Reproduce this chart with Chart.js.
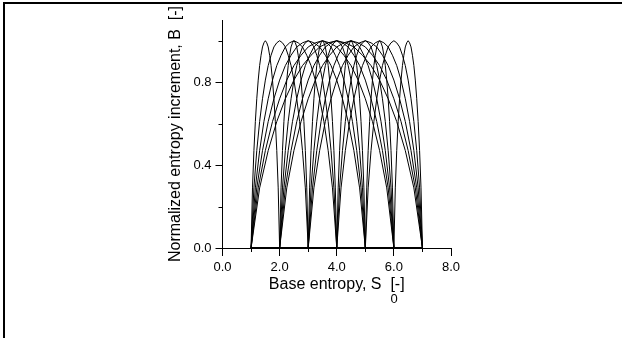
<!DOCTYPE html>
<html><head><meta charset="utf-8">
<script src="https://cdn.jsdelivr.net/npm/chart.js@4.4.1/dist/chart.umd.min.js"></script>
<style>
html,body{margin:0;padding:0;background:#fff;}
#wrap{position:relative;width:622px;height:338px;overflow:hidden;}
#frame{position:absolute;left:3px;top:2px;width:640px;height:360px;border-top:2px solid #000;border-left:2px solid #000;pointer-events:none;}
canvas{position:absolute;left:0;top:0;}
</style></head><body>
<div id="wrap"><canvas id="c" width="622" height="338"></canvas><div id="frame"></div></div>
<script>
// Normalized arc profile (fraction across the arc -> B)
const PROFILE_FRACTIONS = [0,0.05,0.10,0.15,0.20,0.25,0.30,0.35,0.40,0.45,0.50,0.55,0.60,0.65,0.70,0.75,0.80,0.85,0.90,0.95,1.00];
const PROFILE_VALUES    = [0,0.29,0.47,0.61,0.72,0.81,0.88,0.93,0.97,0.99,1.00,0.99,0.97,0.93,0.88,0.81,0.72,0.61,0.47,0.29,0];
// Start and end of each arc on the base-entropy axis
const ARC_SPANS = [[1,2],[1,3],[1,4],[1,5],[1,6],[1,7],
                   [2,3],[2,4],[2,5],[2,6],[2,7],
                   [3,4],[3,5],[3,6],[3,7],
                   [4,5],[4,6],[4,7],
                   [5,6],[5,7],
                   [6,7]];
const BASELINE_X = [1,7];
const X_TICKS = [0,1,2,3,4,5,6,7,8];
const X_LABELED = [0,2,4,6,8];
const Y_TICKS = [0,0.2,0.4,0.6,0.8,1.0];
const Y_LABELED = [0,0.4,0.8];
const X_TITLE = 'Base entropy, S  [-]';
const X_SUB = '0';
const Y_TITLE = 'Normalized entropy increment, B  [-]';

const FONT = "'Liberation Sans', Arial, sans-serif";
const isLab = (arr, v) => arr.some(a => Math.abs(a - v) < 1e-9);

const datasets = ARC_SPANS.map(([a,b]) => ({
  data: PROFILE_FRACTIONS.map((f,i) => ({x: a + f*(b-a), y: PROFILE_VALUES[i]})),
  borderColor: '#000', borderWidth: 1, pointRadius: 0, showLine: true, tension: 0, fill: false
}));
datasets.push({
  data: BASELINE_X.map(x => ({x, y: 0})),
  borderColor: '#000', borderWidth: 2, pointRadius: 0, showLine: true, fill: false
});

const minorTicks = {
  id: 'minorTicks',
  afterDraw(chart) {
    const ctx = chart.ctx, xs = chart.scales.x, ys = chart.scales.y;
    ctx.save();
    ctx.strokeStyle = '#000'; ctx.lineWidth = 1;
    X_TICKS.filter(v => !isLab(X_LABELED, v)).forEach(v => {
      const px = Math.round(xs.getPixelForValue(v)) + 0.5;
      ctx.beginPath(); ctx.moveTo(px, xs.top); ctx.lineTo(px, xs.top + 4); ctx.stroke();
    });
    Y_TICKS.filter(v => !isLab(Y_LABELED, v)).forEach(v => {
      const py = Math.round(ys.getPixelForValue(v)) + 0.5;
      ctx.beginPath(); ctx.moveTo(ys.right - 4, py); ctx.lineTo(ys.right, py); ctx.stroke();
    });
    // subscript of the x-axis title
    ctx.font = '16px ' + FONT;
    const cx = (xs.left + xs.right) / 2;
    const full = ctx.measureText(X_TITLE).width;
    const pre = ctx.measureText(X_TITLE.slice(0, X_TITLE.indexOf('['))).width;
    ctx.font = '13px ' + FONT;
    ctx.fillStyle = '#000'; ctx.textAlign = 'left'; ctx.textBaseline = 'middle';
    ctx.fillText(X_SUB, cx - full/2 + pre, xs.bottom - 39);
    ctx.restore();
  }
};

new Chart(document.getElementById('c'), {
  type: 'scatter',
  data: { datasets },
  options: {
    responsive: false, animation: false, devicePixelRatio: 1,
    clip: false,
    layout: { padding: { left: 160, top: 20, right: 171, bottom: 0 } },
    plugins: { legend: { display: false }, tooltip: { enabled: false } },
    scales: {
      x: {
        type: 'linear', min: 0, max: 8,
        afterBuildTicks: s => { s.ticks = X_TICKS.map(v => ({ value: v })); },
        afterFit: s => { s.height = 90; },
        ticks: { autoSkip: false, maxRotation: 0, padding: 4, color: '#000',
                 font: { family: FONT, size: 13 },
                 callback: v => isLab(X_LABELED, v) ? v.toFixed(1) : '' },
        grid: { drawOnChartArea: false, tickLength: 8,
                tickColor: c => (c.tick && isLab(X_LABELED, c.tick.value)) ? '#000' : 'rgba(0,0,0,0)' },
        border: { color: '#000', width: 1 },
        title: { display: true, text: X_TITLE, color: '#000', font: { family: FONT, size: 16 },
                 padding: { top: 0, bottom: 44 } }
      },
      y: {
        type: 'linear', min: 0, max: 1.1,
        afterBuildTicks: s => { s.ticks = Y_TICKS.map(v => ({ value: v })); },
        afterFit: s => { s.width = 62.5; },
        ticks: { autoSkip: false, padding: 4, color: '#000',
                 font: { family: FONT, size: 13 },
                 callback: v => isLab(Y_LABELED, v) ? v.toFixed(1) : '' },
        grid: { drawOnChartArea: false, tickLength: 7,
                tickColor: c => (c.tick && isLab(Y_LABELED, c.tick.value)) ? '#000' : 'rgba(0,0,0,0)' },
        border: { color: '#000', width: 1 },
        title: { display: true, text: Y_TITLE, color: '#000', font: { family: FONT, size: 16 },
                 padding: { top: 6, bottom: 0 } }
      }
    }
  },
  plugins: [minorTicks]
});
</script>
</body></html>
